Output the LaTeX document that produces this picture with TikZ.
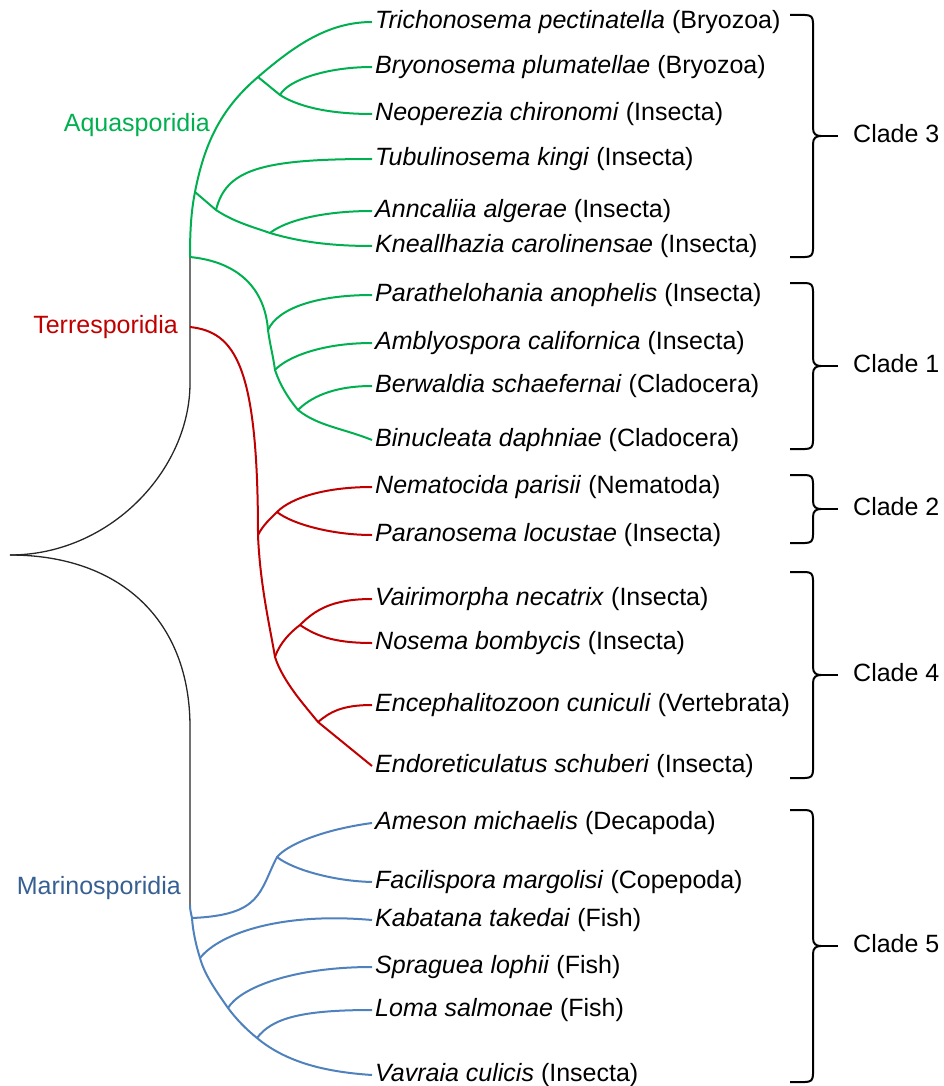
\documentclass[tikz,border=0pt]{standalone}
\usepackage{fontspec}
\setmainfont{Liberation Sans}

\definecolor{aqua}{RGB}{0,176,80}
\definecolor{terr}{RGB}{192,0,0}
\definecolor{mari}{RGB}{79,129,189}
\definecolor{marilabel}{RGB}{55,96,146}

\tikzset{
	limb/.style={line width=2pt},
	trunk/.style={line width=1.3pt, black!85},
	taxon/.style={anchor=west, inner xsep=3pt, inner ysep=0pt, text height=18pt, text depth=5pt, font=\fontsize{25}{30}\selectfont},
	clan/.style={anchor=east, inner sep=0pt, text height=18pt, text depth=5pt, font=\fontsize{25}{30}\selectfont},
	cladetext/.style={anchor=west, inner sep=0pt, text height=18pt, text depth=5pt, font=\fontsize{25}{30}\selectfont},
	bracepen/.style={line width=2pt, black},
}

\newcommand{\cladebrace}[4]{%
	\begin{scope}[shift={(790,#1)}]
	\draw[bracepen] (0,-#2) -- (15,-#2) .. controls (21,-#2) and (23,-#2+2) .. (23,-#2+8)
		-- (23,-8) .. controls (23,-2) and (26,0) .. (31,0)
		.. controls (26,0) and (23,2) .. (23,8)
		-- (23,#2-8) .. controls (23,#2-2) and (21,#2) .. (15,#2) -- (0,#2);
	\coordinate (#3tip) at (31,0);
	\node[cladetext] (#3) at (63,0) {#4};
	\draw[bracepen] (#3tip) -- (48,0);
	\end{scope}}

\begin{document}
\begin{tikzpicture}[x=1pt, y=-1pt]
\useasboundingbox (0,0) rectangle (944,1086);

	\node[taxon] (tri) at (372,22) {\textit{Trichonosema pectinatella} (Bryozoa)};
	\node[taxon] (bry) at (372,67) {\textit{Bryonosema plumatellae} (Bryozoa)};
	\node[taxon] (neo) at (372,114) {\textit{Neoperezia chironomi} (Insecta)};
	\node[taxon] (tub) at (372,159) {\textit{Tubulinosema kingi} (Insecta)};
	\node[taxon] (ann) at (372,211) {\textit{Anncaliia algerae} (Insecta)};
	\node[taxon] (kne) at (372,246) {\textit{Kneallhazia carolinensae} (Insecta)};
	\node[taxon] (par) at (372,295) {\textit{Parathelohania anophelis} (Insecta)};
	\node[taxon] (amb) at (372,343) {\textit{Amblyospora californica} (Insecta)};
	\node[taxon] (ber) at (372,386) {\textit{Berwaldia schaefernai} (Cladocera)};
	\node[taxon] (bin) at (372,440) {\textit{Binucleata daphniae} (Cladocera)};
	\node[taxon] (nem) at (372,487) {\textit{Nematocida parisii} (Nematoda)};
	\node[taxon] (pan) at (372,535) {\textit{Paranosema locustae} (Insecta)};
	\node[taxon] (vai) at (372,599) {\textit{Vairimorpha necatrix} (Insecta)};
	\node[taxon] (nos) at (372,643) {\textit{Nosema bombycis} (Insecta)};
	\node[taxon] (enc) at (372,705) {\textit{Encephalitozoon cuniculi} (Vertebrata)};
	\node[taxon] (endo) at (372,766) {\textit{Endoreticulatus schuberi} (Insecta)};
	\node[taxon] (ame) at (372,823) {\textit{Ameson michaelis} (Decapoda)};
	\node[taxon] (fac) at (372,882) {\textit{Facilispora margolisi} (Copepoda)};
	\node[taxon] (kab) at (372,920) {\textit{Kabatana takedai} (Fish)};
	\node[taxon] (spr) at (372,967) {\textit{Spraguea lophii} (Fish)};
	\node[taxon] (lom) at (372,1010) {\textit{Loma salmonae} (Fish)};
	\node[taxon] (vav) at (372,1075) {\textit{Vavraia culicis} (Insecta)};

	\node[clan, aqua] (aq) at (210,125) {Aquasporidia};
	\node[clan, terr] (te) at (178,327) {Terresporidia};
	\node[clan, marilabel] (ma) at (181,888) {Marinosporidia};

	\coordinate (root) at (10,555);
	\coordinate (top) at (190,383);
	\coordinate (gb) at (190,257);
	\coordinate (tb) at (190,327);
	\coordinate (bot) at (190,727);
	\coordinate (mb) at (190,905);

	\coordinate (a2) at (195,192);
	\coordinate (a1) at (258,77);
	\coordinate (a1b) at (280,95);
	\coordinate (a2a) at (216,210);
	\coordinate (a2b) at (270,233);
	\coordinate (c1a) at (268,330);
	\coordinate (c1b) at (275,370);
	\coordinate (c1c) at (298,410);

	\coordinate (r1) at (258,535);
	\coordinate (r1a) at (277,512);
	\coordinate (r2) at (275,657);
	\coordinate (r2a) at (300,625);
	\coordinate (r3) at (318,722);

	\coordinate (b1) at (192,918);
	\coordinate (b1a) at (277,857);
	\coordinate (b2) at (200,958);
	\coordinate (b3) at (228,1008);
	\coordinate (b4) at (257,1038);

	\draw[trunk] (gb) -- (top) .. controls +(0,87) and +(100,0) .. (root);
	\draw[trunk] (root) .. controls +(110,0) and +(0,-107) .. (bot) -- (mb);

	\draw[limb, aqua] (gb) .. controls +(0,-25) and +(-4,20) .. (a2) .. controls +(10,-52) and +(-35,30) .. (a1) .. controls +(35,-30) and +(-45,0) .. (tri.west);
	\draw[limb, aqua] (a1) -- (a1b) .. controls +(22,14) and +(-35,0) .. (neo.west);
	\draw[limb, aqua] (a1b) .. controls +(8,-15) and +(-45,0) .. (bry.west);
	\draw[limb, aqua] (a2) -- (a2a) .. controls +(18,12) and +(-17,-6) .. (a2b) .. controls +(30,9) and +(-40,0) .. (kne.west);
	\draw[limb, aqua] (a2a) .. controls +(10,-40) and +(-112,0) .. (tub.west);
	\draw[limb, aqua] (a2b) .. controls +(15,-12) and +(-50,0) .. (ann.west);
	\draw[limb, aqua] (gb) .. controls +(50,5) and +(-3,-40) .. (c1a) .. controls +(2,15) and +(-2,-15) .. (c1b) .. controls +(5,15) and +(-10,-12) .. (c1c) .. controls +(20,16) and +(-30,-12) .. (bin.west);
	\draw[limb, aqua] (c1a) .. controls +(10,-22) and +(-55,0) .. (par.west);
	\draw[limb, aqua] (c1b) .. controls +(12,-13) and +(-50,0) .. (amb.west);
	\draw[limb, aqua] (c1c) .. controls +(12,-12) and +(-40,0) .. (ber.west);

	\draw[limb, terr] (tb) .. controls +(45,5) and +(0,-170) .. (r1) .. controls +(2,50) and +(-5,-30) .. (r2) .. controls +(8,25) and +(-12,-15) .. (r3) -- (endo.west);
	\draw[limb, terr] (r1) .. controls +(5,-10) and +(-6,6) .. (r1a) .. controls +(15,-15) and +(-45,0) .. (nem.west);
	\draw[limb, terr] (r1a) .. controls +(15,12) and +(-40,0) .. (pan.west);
	\draw[limb, terr] (r2) .. controls +(5,-15) and +(-8,6) .. (r2a) .. controls +(15,-15) and +(-40,0) .. (vai.west);
	\draw[limb, terr] (r2a) .. controls +(15,10) and +(-40,0) .. (nos.west);
	\draw[limb, terr] (r3) .. controls +(12,-10) and +(-30,0) .. (enc.west);

	\draw[limb, mari] (mb) .. controls +(0,5) and +(-1,-5) .. (b1) .. controls +(1,14) and +(-4,-13) .. (b2) .. controls +(5,18) and +(-11,-16) .. (b3) .. controls +(9,12) and +(-11,-9) .. (b4) .. controls +(30,25) and +(-45,-3) .. (vav.west);
	\draw[limb, mari] (b1) .. controls +(70,-3) and +(-18,35) .. (b1a) .. controls +(12,-14) and +(-45,6) .. (ame.west);
	\draw[limb, mari] (b1a) .. controls +(15,12) and +(-40,-1) .. (fac.west);
	\draw[limb, mari] (b2) .. controls +(20,-25) and +(-90,-8) .. (kab.west);
	\draw[limb, mari] (b3) .. controls +(12,-20) and +(-80,0) .. (spr.west);
	\draw[limb, mari] (b4) .. controls +(15,-20) and +(-70,0) .. (lom.west);

	\cladebrace{136}{121}{c3}{Clade 3}
	\cladebrace{366}{83}{c1}{Clade 1}
	\cladebrace{509}{34}{c2}{Clade 2}
	\cladebrace{675}{103}{c4}{Clade 4}
	\cladebrace{946}{136}{c5}{Clade 5}

\end{tikzpicture}
\end{document}
